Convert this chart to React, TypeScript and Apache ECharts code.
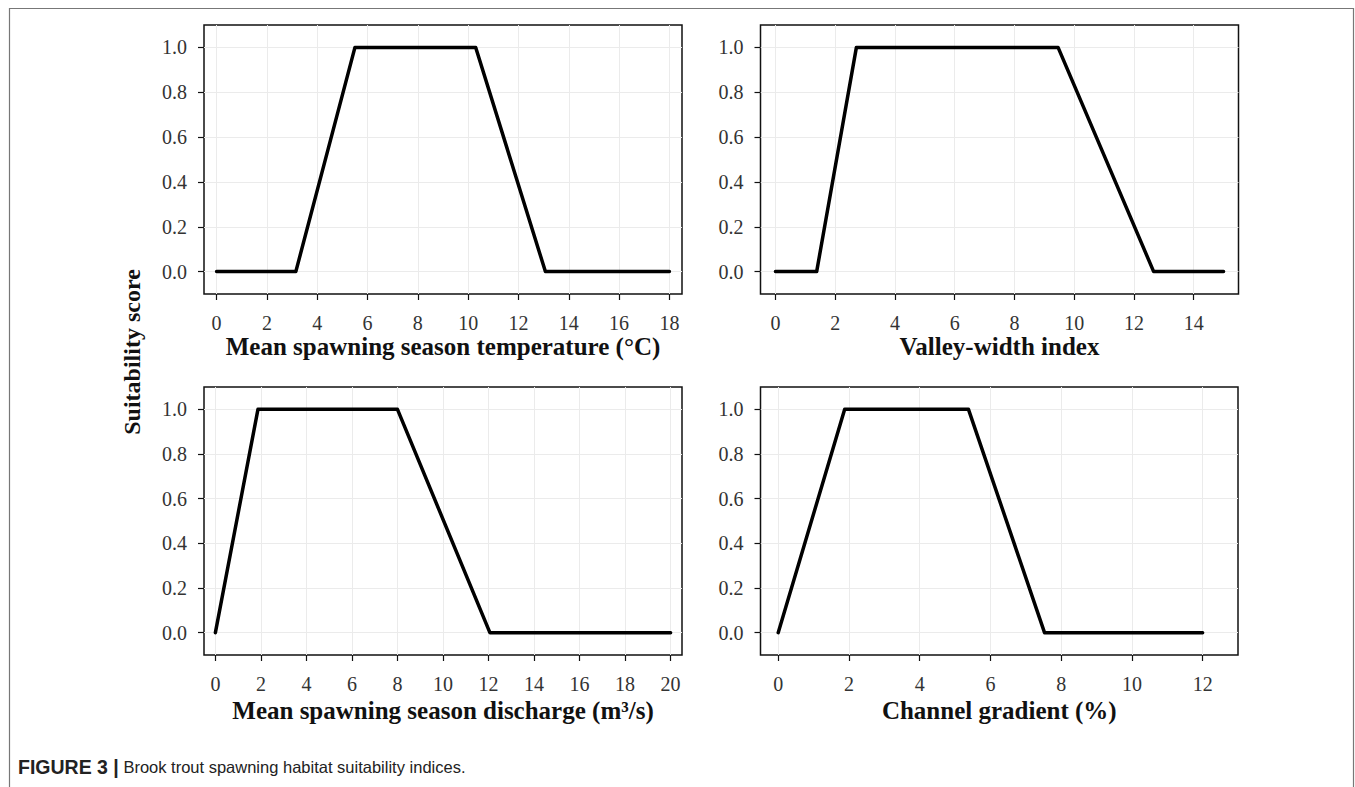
import React, { useEffect, useRef } from "react";
import * as echarts from "echarts";

// ---- data ----
const yTicks = [0, 0.2, 0.4, 0.6, 0.8, 1.0];
const yTitle = "Suitability score";

const tempX = [0, 3.15, 5.5, 10.3, 13.07, 18];
const tempY = [0, 0, 1, 1, 0, 0];
const tempTicks = [0, 2, 4, 6, 8, 10, 12, 14, 16, 18];
const tempTitle = "Mean spawning season temperature (°C)";

const valleyX = [0, 1.38, 2.71, 9.46, 12.66, 15];
const valleyY = [0, 0, 1, 1, 0, 0];
const valleyTicks = [0, 2, 4, 6, 8, 10, 12, 14];
const valleyTitle = "Valley-width index";

const dischargeX = [0, 1.87, 8, 12.06, 20];
const dischargeY = [0, 1, 1, 0, 0];
const dischargeTicks = [0, 2, 4, 6, 8, 10, 12, 14, 16, 18, 20];
const dischargeTitle = "Mean spawning season discharge (m³/s)";

const gradientX = [0, 1.88, 5.38, 7.53, 12];
const gradientY = [0, 1, 1, 0, 0];
const gradientTicks = [0, 2, 4, 6, 8, 10, 12];
const gradientTitle = "Channel gradient (%)";

const captionBold = "FIGURE 3 |";
const captionText = "Brook trout spawning habitat suitability indices.";

// axis limits per panel
const xMins = [-0.5, -0.5, -0.5, -0.5];
const xMaxs = [18.5, 15.5, 20.5, 13];
const yMin = -0.1;
const yMax = 1.1;

const SERIF = "'Liberation Serif', 'Times New Roman', serif";

export default function App() {
  const ref = useRef<HTMLDivElement>(null);
  useEffect(() => {
    if (!ref.current) return;
    const chart = echarts.init(ref.current, null, { renderer: "svg" });

    const panels = [
      { xs: tempX, ys: tempY, ticks: tempTicks, title: tempTitle, gap: 40 },
      { xs: valleyX, ys: valleyY, ticks: valleyTicks, title: valleyTitle, gap: 40 },
      { xs: dischargeX, ys: dischargeY, ticks: dischargeTicks, title: dischargeTitle, gap: 43 },
      { xs: gradientX, ys: gradientY, ticks: gradientTicks, title: gradientTitle, gap: 43 },
    ];

    const grids = [
      { left: 204, top: 25, width: 478, height: 269 },
      { left: 760.5, top: 25, width: 478, height: 269 },
      { left: 204, top: 387, width: 478, height: 268 },
      { left: 760.5, top: 387, width: 477.5, height: 268 },
    ].map((g) => ({
      ...g,
      show: true,
      borderColor: "#111",
      borderWidth: 1.5,
      backgroundColor: "transparent",
      containLabel: false,
    }));

    const xAxis = panels.map((p, i) => ({
      type: "value",
      gridIndex: i,
      min: xMins[i],
      max: xMaxs[i],
      axisLine: { show: false, onZero: false },
      axisTick: {
        show: true,
        inside: false,
        length: 6,
        customValues: p.ticks,
        lineStyle: { color: "#111", width: 1.2 },
      },
      axisLabel: {
        customValues: p.ticks,
        margin: 19,
        fontSize: 20,
        fontFamily: SERIF,
        color: "#333",
      },
      splitLine: { show: true, lineStyle: { color: "#ebebeb", width: 1 } },
      name: p.title,
      nameLocation: "middle",
      nameGap: p.gap,
      nameTextStyle: {
        fontSize: 25,
        fontWeight: "bold",
        fontFamily: SERIF,
        color: "#111",
      },
    }));

    const yAxis = panels.map((_, i) => ({
      type: "value",
      gridIndex: i,
      min: yMin,
      max: yMax,
      axisLine: { show: false, onZero: false },
      axisTick: {
        show: true,
        inside: false,
        length: 6,
        customValues: yTicks,
        lineStyle: { color: "#111", width: 1.2 },
      },
      axisLabel: {
        customValues: yTicks,
        margin: 17,
        fontSize: 20,
        fontFamily: SERIF,
        color: "#333",
        formatter: (v: number) => v.toFixed(1),
      },
      splitLine: { show: true, lineStyle: { color: "#ebebeb", width: 1 } },
    }));

    const series = panels.map((p, i) => ({
      type: "line",
      xAxisIndex: i,
      yAxisIndex: i,
      data: p.xs.map((x, k) => [x, p.ys[k]]),
      showSymbol: false,
      symbol: "none",
      lineStyle: { color: "#000", width: 3.5, cap: "round", join: "round" },
      z: 5,
    }));

    chart.setOption({
      animation: false,
      backgroundColor: "#fff",
      grid: grids,
      xAxis,
      yAxis,
      series,
      graphic: [
        {
          type: "rect",
          shape: { x: 9.5, y: 8.5, width: 1344, height: 800 },
          style: { fill: "none", stroke: "#777", lineWidth: 1.2 },
          silent: true,
        },
        {
          type: "text",
          x: 132,
          y: 352,
          rotation: Math.PI / 2,
          style: {
            text: yTitle,
            fontSize: 24,
            fontWeight: "bold",
            fontFamily: SERIF,
            fill: "#111",
            align: "center",
            verticalAlign: "middle",
          },
        },
        {
          type: "text",
          x: 18,
          y: 767,
          style: {
            text: "{b|" + captionBold + "} " + captionText,
            rich: {
              b: {
                fontFamily: "'Liberation Sans', Arial, sans-serif",
                fontWeight: "bold",
                fontSize: 19.5,
                fill: "#222",
              },
            },
            fontFamily: "'Liberation Sans Narrow', 'Arial Narrow', sans-serif",
            fontSize: 16.5,
            fill: "#222",
            align: "left",
            verticalAlign: "middle",
          },
        },
      ],
    });

    return () => chart.dispose();
  }, []);

  return (
    <div
      ref={ref}
      style={{ position: "absolute", left: 0, top: 0, width: 1355, height: 787 }}
    />
  );
}
